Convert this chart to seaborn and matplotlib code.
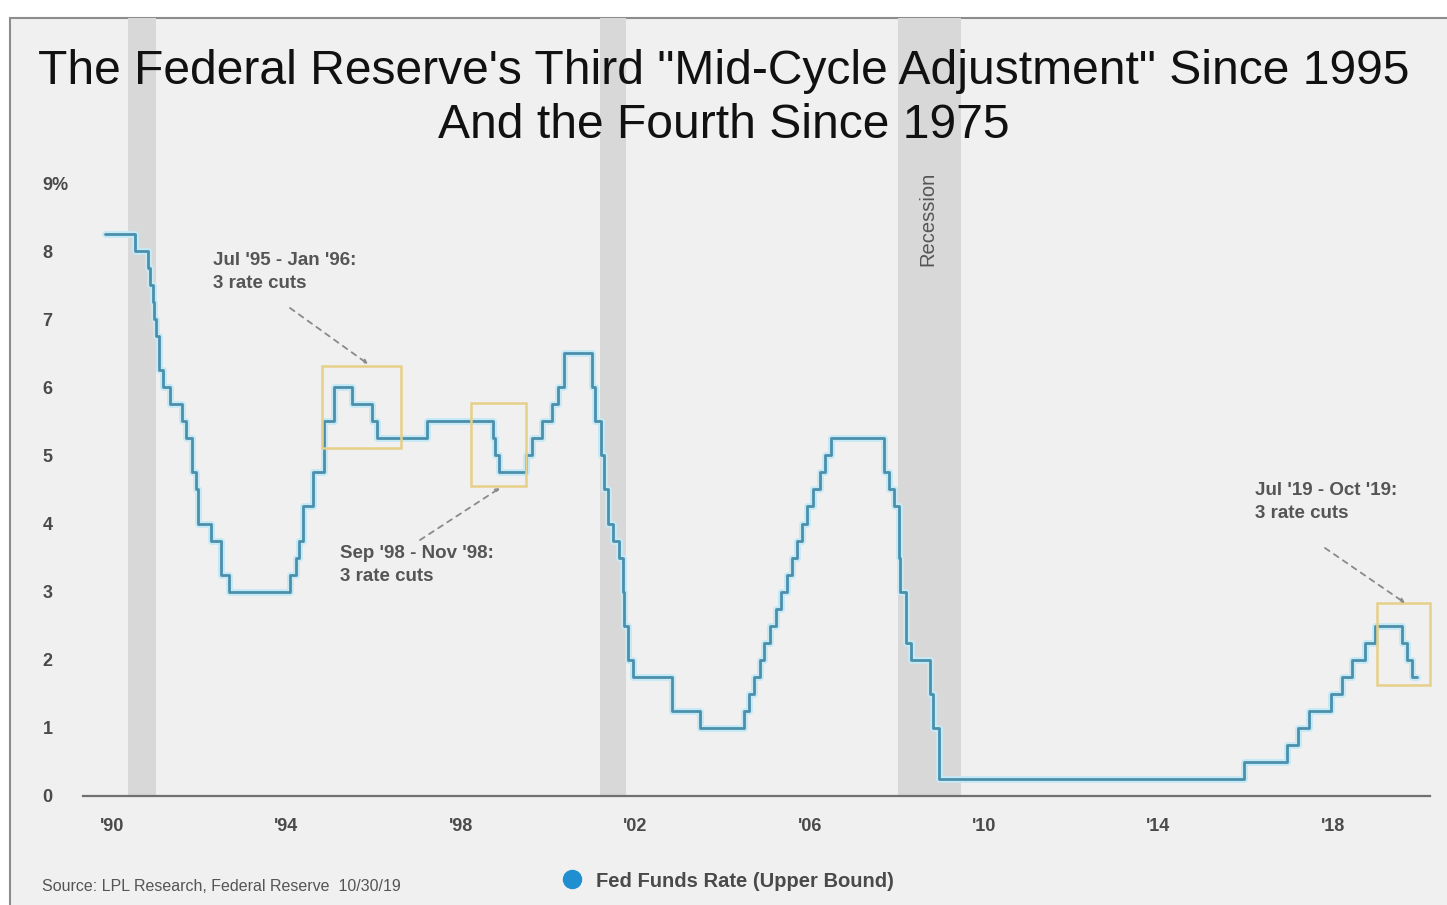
import numpy as np
import pandas as pd
import matplotlib
matplotlib.use("Agg")
import matplotlib.pyplot as plt
from matplotlib.patches import Rectangle
from matplotlib.lines import Line2D
import seaborn as sns

# ---------------- data ----------------
change_dates = ["1989-11-01", "1990-07-13", "1990-10-29", "1990-11-13", "1990-12-07", "1990-12-18",
                "1991-01-08", "1991-02-01", "1991-03-08", "1991-04-30", "1991-08-06", "1991-09-13",
                "1991-10-31", "1991-11-06", "1991-12-06", "1991-12-20",
                "1992-04-09", "1992-07-02", "1992-09-04",
                "1994-02-04", "1994-03-22", "1994-04-18", "1994-05-17", "1994-08-16", "1994-11-15",
                "1995-02-01", "1995-07-06", "1995-12-19", "1996-01-31", "1997-03-25",
                "1998-09-29", "1998-10-15", "1998-11-17",
                "1999-06-30", "1999-08-24", "1999-11-16",
                "2000-02-02", "2000-03-21", "2000-05-16",
                "2001-01-03", "2001-01-31", "2001-03-20", "2001-04-18", "2001-05-15", "2001-06-27",
                "2001-08-21", "2001-09-17", "2001-10-02", "2001-11-06", "2001-12-11",
                "2002-11-06", "2003-06-25",
                "2004-06-30", "2004-08-10", "2004-09-21", "2004-11-10", "2004-12-14",
                "2005-02-02", "2005-03-22", "2005-05-03", "2005-06-30", "2005-08-09", "2005-09-20",
                "2005-11-01", "2005-12-13",
                "2006-01-31", "2006-03-28", "2006-05-10", "2006-06-29",
                "2007-09-18", "2007-10-31", "2007-12-11",
                "2008-01-22", "2008-01-30", "2008-03-18", "2008-04-30", "2008-10-08", "2008-10-29",
                "2008-12-16",
                "2015-12-16", "2016-12-14", "2017-03-15", "2017-06-14", "2017-12-13",
                "2018-03-21", "2018-06-13", "2018-09-26", "2018-12-19",
                "2019-07-31", "2019-09-18", "2019-10-30", "2019-12-05"]
fed_rate = [8.25, 8.0, 7.75, 7.5, 7.25, 7.0,
            6.75, 6.25, 6.0, 5.75, 5.5, 5.25,
            5.0, 4.75, 4.5, 4.0,
            3.75, 3.25, 3.0,
            3.25, 3.5, 3.75, 4.25, 4.75, 5.5,
            6.0, 5.75, 5.5, 5.25, 5.5,
            5.25, 5.0, 4.75,
            5.0, 5.25, 5.5,
            5.75, 6.0, 6.5,
            6.0, 5.5, 5.0, 4.5, 4.0, 3.75,
            3.5, 3.0, 2.5, 2.0, 1.75,
            1.25, 1.0,
            1.25, 1.5, 1.75, 2.0, 2.25,
            2.5, 2.75, 3.0, 3.25, 3.5, 3.75,
            4.0, 4.25,
            4.5, 4.75, 5.0, 5.25,
            4.75, 4.5, 4.25,
            3.5, 3.0, 2.25, 2.0, 1.5, 1.0,
            0.25,
            0.5, 0.75, 1.0, 1.25, 1.5,
            1.75, 2.0, 2.25, 2.5,
            2.25, 2.0, 1.75, 1.75]

recession_start = [1990.37, 2001.2, 2008.02]
recession_end = [1991.0, 2001.8, 2009.47]

y_ticks = [0, 1, 2, 3, 4, 5, 6, 7, 8, 9]
y_labels = ["0", "1", "2", "3", "4", "5", "6", "7", "8", "9%"]
x_ticks = [1990, 1994, 1998, 2002, 2006, 2010, 2014, 2018]
x_labels = ["'90", "'94", "'98", "'02", "'06", "'10", "'14", "'18"]

cut_labels = ["Jul '95 - Jan '96:\n3 rate cuts",
              "Sep '98 - Nov '98:\n3 rate cuts",
              "Jul '19 - Oct '19:\n3 rate cuts"]

title_lines = ["The Federal Reserve's Third \"Mid-Cycle Adjustment\" Since 1995",
               "And the Fourth Since 1975"]
source = "Source: LPL Research, Federal Reserve  10/30/19"
legend_label = "Fed Funds Rate (Upper Bound)"

# ---------------- frame ----------------
dt = pd.to_datetime(change_dates)
year_frac = dt.year + (dt.dayofyear - 1) / 365.25
df = pd.DataFrame({"year": year_frac, "rate": fed_rate})

sns.set_theme(style="white")
fam = ["Liberation Sans", "DejaVu Sans"]
plt.rcParams["font.family"] = fam

W, H = 1447, 905
fig = plt.figure(figsize=(W / 100, H / 100), dpi=100, facecolor="white")

# outer gray panel
panel = Rectangle((10 / W, -0.01), (W + 20) / W, (H - 18) / H + 0.01, transform=fig.transFigure,
                  facecolor="#f0f0f0", edgecolor="#8c8c8c", lw=1.5, zorder=-5)
fig.patches.append(panel)

Y0 = 795.5     # pixel row of zero
PPU = 68.0     # pixels per percentage point
ax_left, ax_right = 83 / W, 1430 / W
ax_bottom = (H - Y0) / H
ax_top = (H - 18) / H
ax = fig.add_axes([ax_left, ax_bottom, ax_right - ax_left, ax_top - ax_bottom])
ax.set_facecolor("none")
ax.patch.set_alpha(0)

px_per_year = 43.6
x0 = 1990 + (83 - 112) / px_per_year
x1 = 1990 + (1430 - 112) / px_per_year
ax.set_xlim(x0, x1)
ax.set_ylim(0, (Y0 - 18) / PPU)

for s, e in zip(recession_start, recession_end):
    ax.axvspan(s, e, color="#d8d8d8", lw=0, zorder=0)

# halo + main line
sns.lineplot(data=df, x="year", y="rate", ax=ax, estimator=None, drawstyle="steps-post",
             color="#c6e9f6", lw=5, zorder=2, legend=False)
sns.lineplot(data=df, x="year", y="rate", ax=ax, estimator=None, drawstyle="steps-post",
             color="#4b8fab", lw=2.0, zorder=3, legend=False)

for side in ["top", "right", "left"]:
    ax.spines[side].set_visible(False)
ax.spines["bottom"].set_color("#707070")
ax.spines["bottom"].set_linewidth(1.6)

ax.set_yticks(y_ticks)
ax.set_yticklabels(y_labels, fontsize=13, fontweight="bold", color="#4a4a4a")
ax.set_xticks(x_ticks)
ax.set_xticklabels(x_labels, fontsize=13, fontweight="bold", color="#4a4a4a")
ax.tick_params(axis="x", length=0, pad=16)
for lbl in ax.get_yticklabels():
    lbl.set_horizontalalignment("left")
ax.tick_params(axis="y", length=0, pad=29)
ax.set_xlabel("")
ax.set_ylabel("")
ax.grid(False)


def yv(py):
    return (Y0 - py) / PPU


def xv(px):
    return 1990 + (px - 112) / px_per_year


# boxes around mid-cycle adjustments (pixel extents)
boxes_px = [(322, 366, 401, 448), (471, 403, 526, 486), (1377, 603, 1430, 685)]
for (bx0, by0, bx1, by1) in boxes_px:
    ax.add_patch(Rectangle((xv(bx0), yv(by1)), xv(bx1) - xv(bx0), yv(by0) - yv(by1), fill=False,
                           edgecolor="#e6cf88", lw=1.8, zorder=4, clip_on=False))

ann_text_px = [(213, 252), (340, 545), (1255, 482)]
ann_from_px = [(290, 308), (420, 540), (1325, 548)]
ann_to_px = [(368, 364), (500, 488), (1405, 603)]
for lab, tp, fp, ep in zip(cut_labels, ann_text_px, ann_from_px, ann_to_px):
    ax.text(xv(tp[0]), yv(tp[1]), lab, fontsize=13.5, fontweight="bold",
            color="#555555", va="top", ha="left", linespacing=1.45, zorder=5)
    ax.annotate("", xy=(xv(ep[0]), yv(ep[1])), xytext=(xv(fp[0]), yv(fp[1])),
                arrowprops=dict(arrowstyle="-|>", linestyle=(0, (3, 3)), color="#8a8a8a",
                                lw=1.3, mutation_scale=6, shrinkA=0, shrinkB=0), zorder=5)

ax.text(xv(928), yv(219), "Recession", rotation=90, fontsize=14.5,
        color="#555555", ha="center", va="center", zorder=5)

# title
fig.text(0.5, (H - 71) / H, title_lines[0], ha="center", va="center", fontsize=34.6, color="#111111")
fig.text(0.5, (H - 125) / H, title_lines[1], ha="center", va="center", fontsize=34.6, color="#111111")

# source
fig.text(42 / W, (H - 886) / H, source, fontsize=11.5, color="#555555",
         ha="left", va="center")

# legend
handle = Line2D([], [], marker="o", color="none", markerfacecolor="#1f8fd1",
                markeredgecolor="#1f8fd1", markersize=13, lw=0)
fig.legend([handle], [legend_label], loc="center", bbox_to_anchor=(727 / W, (H - 881) / H),
           frameon=False, prop={"size": 14.5, "weight": "bold"},
           labelcolor="#4a4a4a", handletextpad=0.6, handlelength=1.2)

fig.savefig("out.png", dpi=100, facecolor="white")
